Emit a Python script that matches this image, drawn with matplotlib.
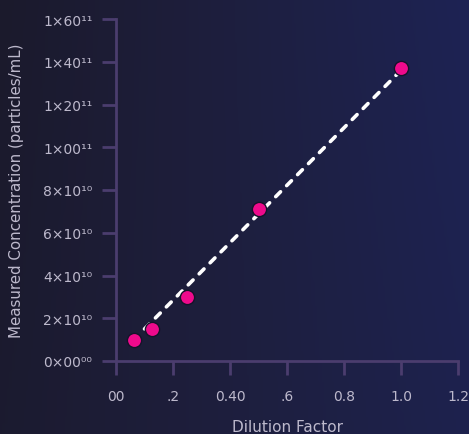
import matplotlib.pyplot as plt
import numpy as np
from matplotlib.colors import LinearSegmentedColormap

# measured data
dilution = [0.0625, 0.125, 0.25, 0.5, 1.0]
concentration = [1.0e10, 1.5e10, 3.0e10, 7.1e10, 1.37e11]
# fitted line
fit_x = [0.1, 1.0]
fit_y = [1.5e10, 1.36e11]

x_ticks = [0.0, 0.2, 0.4, 0.6, 0.8, 1.0, 1.2]
x_labels = ['00', '.2', '0.40', '.6', '0.8', '1.0', '1.2']
y_ticks = [0, 2e10, 4e10, 6e10, 8e10, 1e11, 1.2e11, 1.4e11, 1.6e11]
y_labels = ['0×00⁰⁰', '2×10¹⁰', '4×10¹⁰', '6×10¹⁰', '8×10¹⁰',
            '1×00¹¹', '1×20¹¹', '1×40¹¹', '1×60¹¹']

plt.rcParams['font.family'] = ['DejaVu Sans']

text_col = '#bdb9cc'
axis_col = '#4b3d6e'

fig = plt.figure(figsize=(4.69, 4.35), dpi=100)

# background gradient
bg = fig.add_axes([0, 0, 1, 1], zorder=-10)
gx, gy = np.meshgrid(np.linspace(0, 1, 200), np.linspace(0, 1, 200))
grad = np.clip(0.75 * gx + 0.25 * (1 - gy) * gx + 0.1 * gy, 0, 1)
cmap = LinearSegmentedColormap.from_list('bg', ['#1b1a2c', '#1e1f3f', '#1d2354'])
bg.imshow(grad, cmap=cmap, aspect='auto', extent=[0, 1, 0, 1], origin='upper')
bg.axis('off')

ax = fig.add_axes([116 / 469, 1 - 362 / 435, 342 / 469, 342 / 435])
ax.set_facecolor('none')

ax.plot(fit_x, fit_y, color='white', linewidth=2.6, linestyle=(0, (1.9, 2.4)),
        dash_capstyle='round', zorder=2)
ax.scatter(dilution, concentration, s=105, color='#ee0a8c', edgecolor='#15132a',
           linewidth=1.0, zorder=3)

ax.set_xlim(0, 1.2)
ax.set_ylim(0, 1.6e11)
ax.set_xticks(x_ticks)
ax.set_xticklabels(x_labels)
ax.set_yticks(y_ticks)
ax.set_yticklabels(y_labels)

for side in ['top', 'right']:
    ax.spines[side].set_visible(False)
for side in ['left', 'bottom']:
    ax.spines[side].set_color(axis_col)
    ax.spines[side].set_linewidth(2)
ax.tick_params(colors=text_col, labelsize=10, length=10, width=2,
               color=axis_col)
ax.tick_params(axis='x', pad=10)
ax.tick_params(axis='y', pad=7)

ax.set_xlabel('Dilution Factor', color=text_col, fontsize=11, labelpad=12)
ax.set_ylabel('Measured Concentration (particles/mL)', color=text_col,
              fontsize=10.8, labelpad=14)

fig.savefig('out.png', dpi=100)
